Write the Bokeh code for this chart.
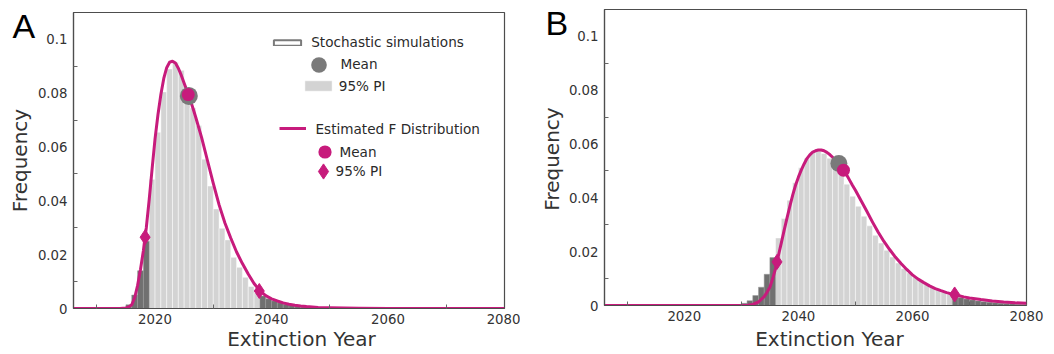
import math
from bokeh.plotting import figure
from bokeh.models import (ColumnDataSource, FixedTicker, CustomJSTickFormatter, Label,
                          Legend, LegendItem, Range1d, GridBox)
from bokeh.embed import file_html
from bokeh.resources import INLINE

# ---------------- data ----------------
x_ticks = [2020, 2040, 2060, 2080]
x_minor = [2010, 2030, 2050, 2070]
y_ticks = [0, 0.02, 0.04, 0.06, 0.08, 0.1]
y_minor = [0.01, 0.03, 0.05, 0.07, 0.09]

# Panel A - stochastic simulations histogram (bin start year, frequency)
a_hist_years = list(range(2015, 2050))
a_hist_freq = [0.0014, 0.005, 0.014, 0.025, 0.048, 0.0655, 0.0805, 0.089, 0.0915, 0.0885,
               0.082, 0.0745, 0.068, 0.0555, 0.0455, 0.037, 0.0298, 0.0255, 0.019, 0.0153,
               0.0116, 0.0082, 0.0058, 0.0046, 0.0036, 0.0028, 0.0021, 0.0016, 0.0012, 0.0009,
               0.0006, 0.0004, 0.0003, 0.0002, 0.0001]
a_sim_pi = [2019, 2038]
a_sim_mean_x = [2025.8]
a_sim_mean_y = [0.0790]
# Panel A - estimated F distribution
a_curve_x = [2006, 2014, 2015, 2015.5, 2016, 2016.5, 2017, 2017.5, 2018, 2018.5,
             2019, 2019.5, 2020, 2020.5, 2021, 2021.5, 2022, 2022.5, 2023, 2023.5,
             2024, 2024.5, 2025, 2025.5, 2026, 2026.5, 2027, 2028, 2029, 2030,
             2031, 2032, 2033, 2034, 2035, 2036, 2037, 2038, 2039, 2040,
             2041, 2042, 2043, 2044, 2045, 2046, 2048, 2050, 2055, 2060, 2070, 2080]
a_curve_y = [0, 0, 0.0002, 0.0006, 0.0014, 0.004, 0.0085, 0.0145, 0.0215, 0.030,
             0.0405, 0.052, 0.063, 0.072, 0.0795, 0.0855, 0.0895, 0.0915, 0.0919, 0.0912,
             0.0893, 0.0867, 0.0837, 0.0808, 0.0778, 0.0745, 0.071, 0.0635, 0.055, 0.0465,
             0.0385, 0.0318, 0.0262, 0.021, 0.0167, 0.0128, 0.0093, 0.0066, 0.0048, 0.0036,
             0.0028, 0.0021, 0.0016, 0.0012, 0.0009, 0.0007, 0.0004, 0.00025, 0.0001, 0.00004,
             0.00001, 0]
a_fit_mean_x = [2025.7]
a_fit_mean_y = [0.0795]
a_fit_pi_x = [2018.3, 2037.9]
a_fit_pi_y = [0.0265, 0.0065]

# Panel B
b_hist_years = list(range(2030, 2080))
b_hist_freq = [0.0008, 0.0018, 0.0037, 0.0068, 0.0116, 0.0178, 0.0251, 0.0323, 0.0391, 0.0456,
               0.0512, 0.0547, 0.0568, 0.0575, 0.0565, 0.0547, 0.0528, 0.049, 0.0451, 0.0406,
               0.0369, 0.0332, 0.0296, 0.0261, 0.0232, 0.0205, 0.018, 0.0158, 0.0137, 0.0121,
               0.0106, 0.0091, 0.0078, 0.0068, 0.0058, 0.005, 0.0041, 0.0034, 0.0029, 0.0024,
               0.002, 0.0017, 0.0014, 0.0012, 0.001, 0.0008, 0.0007, 0.0006, 0.0005, 0.0004]
b_sim_pi = [2036, 2067]
b_sim_mean_x = [2047.1]
b_sim_mean_y = [0.0528]
b_curve_x = [2006, 2031, 2032, 2033, 2034, 2034.5, 2035, 2035.5, 2036, 2036.5,
             2037, 2037.5, 2038, 2038.5, 2039, 2039.5, 2040, 2040.5, 2041, 2041.5,
             2042, 2042.5, 2043, 2043.5, 2044, 2044.5, 2045, 2045.5, 2046, 2046.5,
             2047, 2047.5, 2048, 2048.5, 2049, 2049.5, 2050, 2051, 2052, 2053,
             2054, 2055, 2056, 2057, 2058, 2059, 2060, 2061, 2062, 2063,
             2064, 2065, 2066, 2067, 2068, 2069, 2070, 2072, 2074, 2076, 2078, 2080]
b_curve_y = [0, 0, 0.0004, 0.0013, 0.0033, 0.0049, 0.0068, 0.0100, 0.0138, 0.0186,
             0.0232, 0.0279, 0.0325, 0.0368, 0.0410, 0.0447, 0.0477, 0.0503, 0.0526, 0.0546,
             0.0560, 0.0570, 0.0575, 0.0578, 0.0578, 0.0575, 0.0569, 0.0561, 0.0551, 0.0539,
             0.0526, 0.0513, 0.0501, 0.0484, 0.0465, 0.0446, 0.0428, 0.0389, 0.0350, 0.0310,
             0.0272, 0.0238, 0.0208, 0.0180, 0.0156, 0.0134, 0.0114, 0.0098, 0.0085, 0.0073,
             0.0063, 0.0055, 0.0048, 0.0042, 0.0037, 0.0032, 0.0028, 0.0022, 0.0017, 0.0013,
             0.0010, 0.0008]
b_fit_mean_x = [2047.9]
b_fit_mean_y = [0.0503]
b_fit_pi_x = [2036.25, 2067.4]
b_fit_pi_y = [0.0162, 0.0041]

panel_letters = ["A", "B"]
x_title = "Extinction Year"
y_title = "Frequency"
legend_texts = ["Stochastic simulations", "Mean", "95% PI",
                "Estimated F Distribution", "Mean", "95% PI"]

# ---------------- style ----------------
LIGHT = "#d3d3d3"
DARK = "#707070"
GRAYMEAN = "#7a7a7a"
PINK = "#c71b7c"
FRAME = "#4d4d4d"
TEXT = "#333333"
FONT = "DejaVu Sans"
H = 352
W = 1054


def make_panel(years, freq, sim_pi, sim_mx, sim_my, cx, cy, fmx, fmy, pix, piy,
               geom, sim_size, with_legend):
    fw, fh, bl, br, bt, bb = geom
    p = figure(frame_width=fw, frame_height=fh, min_border_left=bl, min_border_right=br,
               min_border_top=bt, min_border_bottom=bb, x_range=Range1d(2006, 2080),
               y_range=Range1d(0, 0.11), output_backend="svg", toolbar_location=None,
               title=None, tools="")
    p.frame_align = False
    p.background_fill_color = "white"
    p.border_fill_color = "white"
    p.grid.visible = False
    p.outline_line_color = FRAME
    p.outline_line_width = 1.2

    lo, hi = sim_pi
    inside = [(y, f) for y, f in zip(years, freq) if lo <= y < hi]
    outside = [(y, f) for y, f in zip(years, freq) if not (lo <= y < hi)]
    src_in = ColumnDataSource(dict(left=[y for y, _ in inside], right=[y + 1 for y, _ in inside],
                                   top=[f for _, f in inside]))
    src_out = ColumnDataSource(dict(left=[y for y, _ in outside], right=[y + 1 for y, _ in outside],
                                    top=[f for _, f in outside]))
    r_light = p.quad(left="left", right="right", top="top", bottom=0, source=src_in,
                     fill_color=LIGHT, line_color="white", line_width=0.6, line_alpha=0.8)
    p.quad(left="left", right="right", top="top", bottom=0, source=src_out,
           fill_color=DARK, line_color="#9a9a9a", line_width=0.6, line_alpha=0.8)
    # outline-only version of the simulations, used only as the legend key
    r_box = p.quad(left="left", right="right", top="top", bottom=0, source=src_in,
                   fill_alpha=0, line_color="#7a7a7a", line_width=2, visible=False)
    r_curve = p.line(cx, cy, line_width=3, line_color=PINK, line_join="round")
    r_smean = p.scatter(sim_mx, sim_my, marker="circle", size=sim_size, fill_color=GRAYMEAN,
                        line_color=None)
    r_fmean = p.scatter(fmx, fmy, marker="circle", size=13, fill_color=PINK, line_color=None)
    r_pi = p.scatter(pix, piy, marker="diamond", size=15, fill_color=PINK, line_color=PINK,
                     line_width=1)

    for ax in (p.xaxis[0], p.yaxis[0]):
        ax.axis_line_color = FRAME
        ax.axis_line_width = 1.2
        ax.major_tick_in = 0
        ax.major_tick_out = 0
        ax.minor_tick_in = 4
        ax.minor_tick_out = 0
        ax.minor_tick_line_color = "#666666"
        ax.major_label_text_font = FONT
        ax.major_label_text_font_size = "13.3px"
        ax.major_label_text_color = TEXT
    p.xaxis.ticker = FixedTicker(ticks=x_ticks, minor_ticks=x_minor)
    p.yaxis.ticker = FixedTicker(ticks=y_ticks, minor_ticks=y_minor)
    p.yaxis.formatter = CustomJSTickFormatter(code="return tick.toString();")
    p.xaxis.major_label_standoff = 5
    p.yaxis.major_label_standoff = 6

    if with_legend:
        sym = [  # renderer, glyph w, glyph h, location (screen, from frame bottom-left)
            (r_box, 34, 7, (197, 262.3)),
            (r_smean, 39, 39, (226.3, 224.3)),
            (r_light, 34, 13, (228, 216.5)),
            (r_curve, 27, 4, (205.5, 177.7)),
            (r_fmean, 33, 33, (234.8, 140.2)),
            (r_pi, 38, 38, (230.5, 118.2)),
        ]
        for r, gw, gh, loc in sym:
            lg = Legend(items=[LegendItem(label=" ", renderers=[r])], location=loc,
                        glyph_width=gw, glyph_height=gh, label_text_font_size="1px",
                        label_height=1, label_width=1, label_standoff=0, padding=0,
                        margin=0, spacing=0, border_line_alpha=0, background_fill_alpha=0)
            p.add_layout(lg)
    return p


pA = make_panel(a_hist_years, a_hist_freq, a_sim_pi, a_sim_mean_x, a_sim_mean_y,
                a_curve_x, a_curve_y, a_fit_mean_x, a_fit_mean_y, a_fit_pi_x, a_fit_pi_y,
                (431, 296, 73, 16, 12, H - 308), 18, True)
pB = make_panel(b_hist_years, b_hist_freq, b_sim_pi, b_sim_mean_x, b_sim_mean_y,
                b_curve_x, b_curve_y, b_fit_mean_x, b_fit_mean_y, b_fit_pi_x, b_fit_pi_y,
                (422, 296, 84, 28, 9, H - 305), 17, False)

# transparent overlay carrying the texts that sit outside the plot frames
ov = figure(width=W, height=H, min_border=0, min_border_left=0, min_border_right=0,
            min_border_top=0, min_border_bottom=0, x_range=Range1d(0, 1), y_range=Range1d(0, 1),
            x_axis_type=None, y_axis_type=None, output_backend="svg", toolbar_location=None,
            title=None, tools="")
ov.frame_align = False
ov.grid.visible = False
ov.outline_line_color = None
ov.background_fill_color = None
ov.border_fill_color = None


def add_text(fig, x, y, text, font, size, color, align="left", angle=0.0):
    fig.add_layout(Label(x=x, y=H - y, x_units="screen", y_units="screen", text=text,
                         text_font=font, text_font_size=size, text_color=color,
                         text_align=align, text_baseline="middle", angle=angle))


# panel letters
add_text(ov, 12, 25, panel_letters[0], "Liberation Sans", "34px", "black")
add_text(ov, 545, 22.5, panel_letters[1], "Liberation Sans", "34px", "black")
# axis titles
add_text(ov, 19.5, 160, y_title, FONT, "20px", TEXT, "center", math.pi / 2)
add_text(ov, 551.5, 158.5, y_title, FONT, "20px", TEXT, "center", math.pi / 2)
add_text(ov, 301, 338.3, x_title, FONT, "20px", TEXT, "center")
add_text(ov, 829, 338.5, x_title, FONT, "20px", TEXT, "center")
# legend texts
legend_text_pos = [(310.7, 41.7), (340, 63), (338.3, 85.3), (315, 128.3), (339, 151.3), (335, 170.5)]
for t, (tx, ty) in zip(legend_texts, legend_text_pos):
    add_text(ov, tx, ty, t, FONT, "13.6px", "#2a2a2a", "left")

layout = GridBox(children=[(pA, 0, 0), (pB, 0, 1), (ov, 0, 0, 1, 2)], spacing=0)
open("out.html", "w").write(file_html(layout, INLINE))
